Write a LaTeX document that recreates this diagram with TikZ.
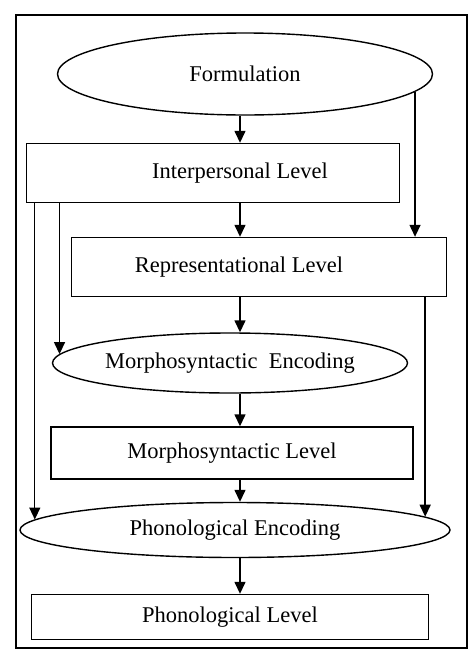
\documentclass[tikz,border=0pt]{standalone}
\usepackage{fontspec}
\setmainfont{Liberation Serif}
\usetikzlibrary{arrows.meta, positioning, shapes.geometric, calc}

\begin{document}
\begin{tikzpicture}[x=1pt, y=-1pt,
  lvl/.style={draw, line width=1.4pt, inner sep=0pt, font=\fontsize{22.5}{26}\selectfont},
  enc/.style={draw, ellipse, line width=1.4pt, inner sep=0pt, font=\fontsize{22.5}{26}\selectfont},
  arr/.style={-{Triangle[length=12pt, width=11pt]}, line width=1.4pt},
  frame/.style={line width=2.2pt}
]
  \useasboundingbox (0,0) rectangle (470,654);
  \draw[frame] (16,15) rectangle (467,648);

  \node[enc, minimum width=375pt, minimum height=82pt] (form) at (245,74) {Formulation};
  \node[lvl, minimum width=373pt, minimum height=59pt] (inter) at (213,173) {\hspace*{54pt}Interpersonal Level};
  \node[lvl, minimum width=375pt, minimum height=59pt] (rep) at (259,267) {Representational Level\hspace*{40pt}};
  \node[enc, minimum width=355pt, minimum height=60pt] (menc) at (230,363) {Morphosyntactic~ Encoding};
  \node[lvl, minimum width=362pt, minimum height=52pt] (mlev) at (232,453) {Morphosyntactic Level};
  \node[enc, minimum width=430pt, minimum height=55pt] (phenc) at (235,530) {Phonological Encoding};
  \node[lvl, minimum width=397pt, minimum height=45pt] (phlev) at (230,617) {Phonological Level};

  \coordinate (col) at (240,0);

  \draw[arr] (col |- form.south) -- (col |- inter.north);
  \draw[arr] (col |- inter.south) -- (col |- rep.north);
  \draw[arr] (col |- rep.south) -- (col |- menc.north);
  \draw[arr] (col |- menc.south) -- (col |- mlev.north);
  \draw[arr] (col |- mlev.south) -- (col |- phenc.north);
  \draw[arr] (col |- phenc.south) -- (col |- phlev.north);

  \draw[arr] (form.-6) -- (form.-6 |- rep.north);
  \draw[arr] (menc.177 |- inter.south) -- (menc.177);
  \draw[arr] (phenc.177 |- inter.south) -- (phenc.177);
  \draw[arr] (phenc.4 |- rep.south) -- (phenc.4);
\end{tikzpicture}
\end{document}
